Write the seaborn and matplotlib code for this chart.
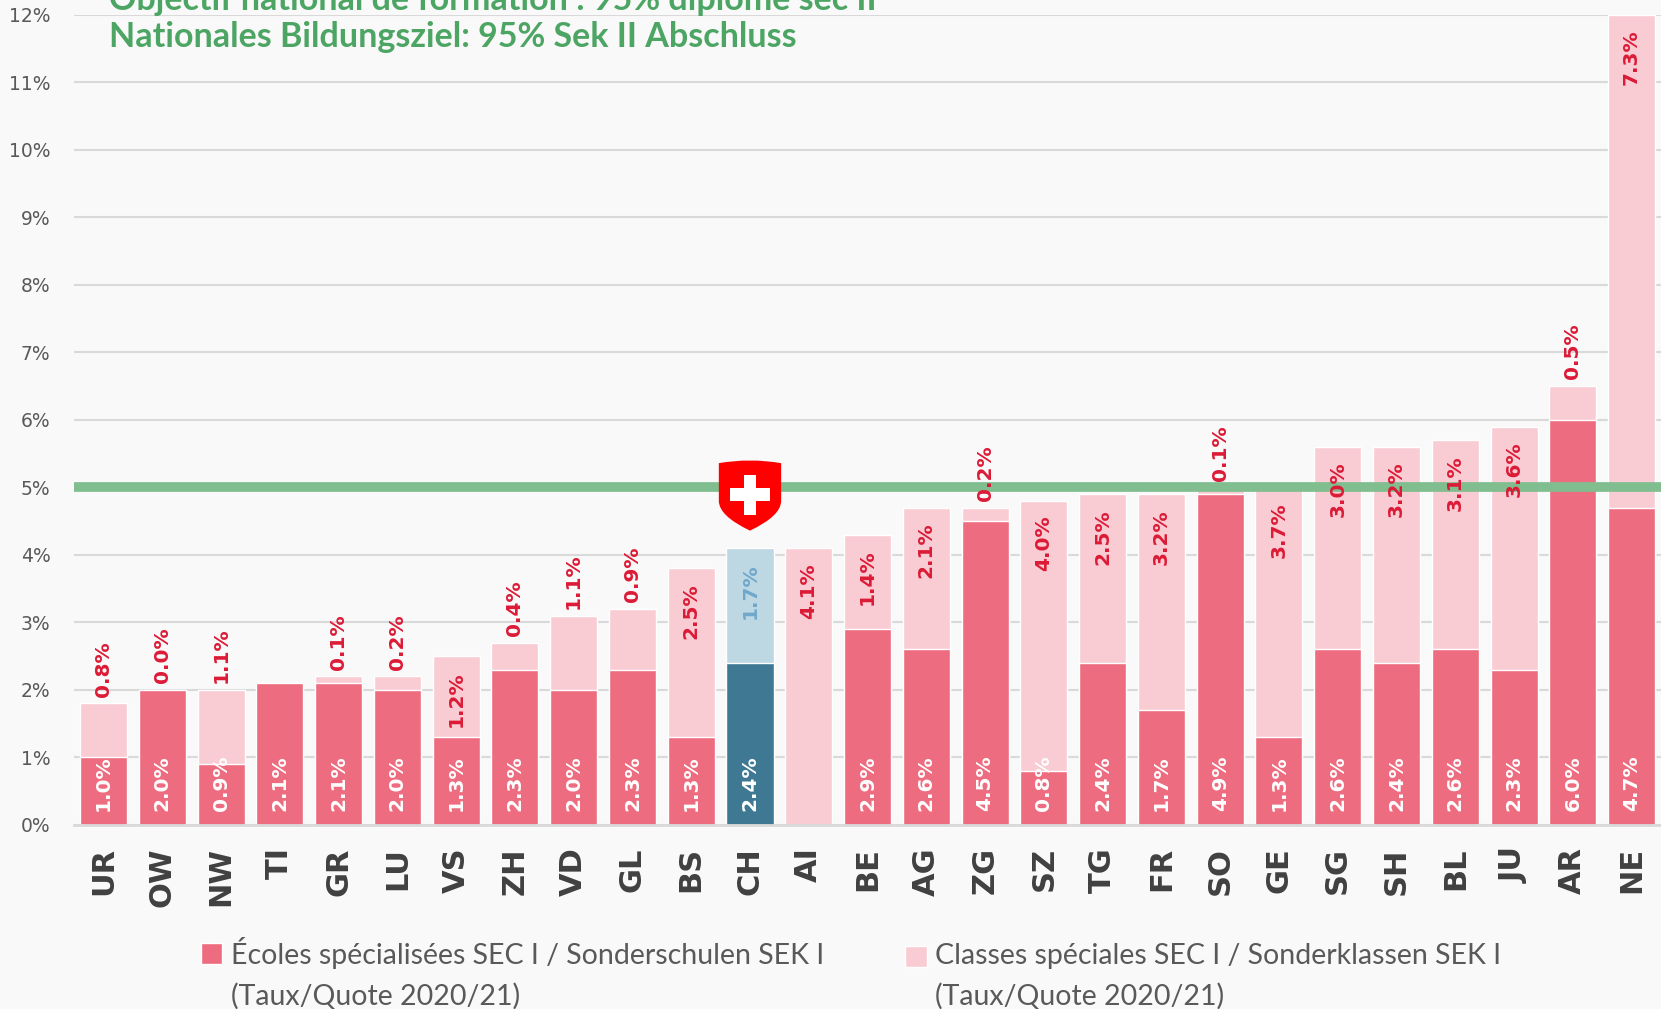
import numpy as np
import pandas as pd
import matplotlib
matplotlib.use('Agg')
import matplotlib.pyplot as plt
from matplotlib.patches import Patch, PathPatch, Rectangle
from matplotlib.path import Path
import seaborn as sns

# --- données (taux en %) ---
cantons = ['UR', 'OW', 'NW', 'TI', 'GR', 'LU', 'VS', 'ZH', 'VD', 'GL', 'BS', 'CH', 'AI',
           'BE', 'AG', 'ZG', 'SZ', 'TG', 'FR', 'SO', 'GE', 'SG', 'SH', 'BL', 'JU', 'AR', 'NE']
ecoles = [1.0, 2.0, 0.9, 2.1, 2.1, 2.0, 1.3, 2.3, 2.0, 2.3, 1.3, 2.4, np.nan,
          2.9, 2.6, 4.5, 0.8, 2.4, 1.7, 4.9, 1.3, 2.6, 2.4, 2.6, 2.3, 6.0, 4.7]
classes = [0.8, 0.0, 1.1, np.nan, 0.1, 0.2, 1.2, 0.4, 1.1, 0.9, 2.5, 1.7, 4.1,
           1.4, 2.1, 0.2, 4.0, 2.5, 3.2, 0.1, 3.7, 3.0, 3.2, 3.1, 3.6, 0.5, 7.3]
objectif = 5.0

titre1 = 'Objectif national de formation : 95% diplôme sec II'
titre2 = 'Nationales Bildungsziel: 95% Sek II Abschluss'
leg1 = 'Écoles spécialisées SEC I / Sonderschulen SEK I\n(Taux/Quote 2020/21)'
leg2 = 'Classes spéciales SEC I / Sonderklassen SEK I\n(Taux/Quote 2020/21)'

df = pd.DataFrame({'canton': cantons, 'ecoles': ecoles, 'classes': classes})
df['ecoles_bar'] = df['ecoles'].fillna(0)
df['total'] = df['ecoles'].fillna(0) + df['classes'].fillna(0)

# couleurs
c_dark, c_light = '#ee6c7f', '#f9cbd3'
c_ch_dark, c_ch_light = '#3f7893', '#bdd7e3'
c_lab = '#dc1a36'
c_lab_ch = '#6fa8cb'
bg = '#f9f9f9'

pal_light = [c_ch_light if c == 'CH' else c_light for c in cantons]
pal_dark = [c_ch_dark if c == 'CH' else c_dark for c in cantons]

sns.set_style('white')
plt.rcParams['font.family'] = ['DejaVu Sans']

fig = plt.figure(figsize=(16.61, 10.09), dpi=100, facecolor=bg)
ax = fig.add_axes([0.0446, 0.1824, 0.9554, 0.8028])
ax.set_facecolor(bg)

sns.barplot(data=df, x='canton', y='total', hue='canton', order=cantons, hue_order=cantons,
            palette=pal_light, legend=False, width=0.8, saturation=1, ax=ax, zorder=2)
sns.barplot(data=df, x='canton', y='ecoles_bar', hue='canton', order=cantons, hue_order=cantons,
            palette=pal_dark, legend=False, width=0.8, saturation=1, ax=ax, zorder=2)

# étiquettes
for i, row in df.iterrows():
    if not np.isnan(row['ecoles']):
        ax.text(i, 0.2, f"{row['ecoles']:.1f}%", rotation=90, ha='center', va='bottom',
                color='white', fontsize=14.5, fontweight='bold', zorder=5)
    if not np.isnan(row['classes']):
        col = c_lab_ch if row['canton'] == 'CH' else c_lab
        if row['classes'] >= 1.2:
            ax.text(i, row['total'] - 0.22, f"{row['classes']:.1f}%", rotation=90, ha='center',
                    va='top', color=col, fontsize=14.5, fontweight='bold', zorder=5)
        else:
            ax.text(i, row['total'] + 0.1, f"{row['classes']:.1f}%", rotation=90, ha='center',
                    va='bottom', color=col, fontsize=14.5, fontweight='bold', zorder=5)

# objectif national
ax.axhline(objectif, color='#80bd8f', lw=7, zorder=3)

# écusson suisse au-dessus de CH
xc = cantons.index('CH')
hw = 0.53
top, side, tip = objectif + 0.36, objectif - 0.2, objectif - 0.64
verts = [(xc - hw, top), (xc, top + 0.08), (xc + hw, top), (xc + hw, side),
         (xc + hw, tip + 0.22), (xc, tip), (xc - hw, tip + 0.22), (xc - hw, side), (xc - hw, top)]
codes = [Path.MOVETO, Path.CURVE3, Path.CURVE3, Path.LINETO,
         Path.CURVE3, Path.CURVE3, Path.CURVE3, Path.CURVE3, Path.CLOSEPOLY]
ax.add_patch(PathPatch(Path(verts, codes), facecolor='#ff0000', edgecolor='none', zorder=4))
cy = objectif - 0.11
ax.add_patch(Rectangle((xc - 0.34, cy - 0.095), 0.68, 0.19, facecolor='white', edgecolor='none', zorder=5))
ax.add_patch(Rectangle((xc - 0.11, cy - 0.295), 0.22, 0.59, facecolor='white', edgecolor='none', zorder=5))

# axes
ax.set_xlim(-0.5, len(cantons) - 0.5)
ax.set_ylim(0, 12)
ax.set_yticks(range(0, 13))
ax.set_yticklabels([f'{v}%' for v in range(0, 13)])
ax.set_xlabel('')
ax.set_ylabel('')
ax.yaxis.grid(True, color='#d9d9d9', lw=1.5)
ax.set_axisbelow(True)
for s in ['left', 'right', 'top']:
    ax.spines[s].set_visible(False)
ax.spines['bottom'].set_color('#d9d9d9')
ax.spines['bottom'].set_linewidth(2)
ax.tick_params(axis='y', length=0, pad=17, labelsize=13.5, labelcolor='#595959')
ax.tick_params(axis='x', length=0, pad=16, labelsize=22, labelcolor='#404040')
plt.setp(ax.get_xticklabels(), rotation=90, fontweight='bold')

# titre
fig.text(0.0656, 0.990, titre1, fontsize=24.5, fontweight='bold', color='#4da564',
         family='Lato', va='baseline', ha='left')
fig.text(0.0656, 0.953, titre2, fontsize=24.5, fontweight='bold', color='#4da564',
         family='Lato', va='baseline', ha='left')

# légende
def legende(color, label, x, y):
    lg = fig.legend(handles=[Patch(facecolor=color)], labels=[label], loc='upper left',
                    bbox_to_anchor=(x, y), frameon=False, handlelength=0.75, handleheight=0.75,
                    handletextpad=0.3, prop={'family': 'Lato', 'size': 20.5}, labelcolor='#595959',
                    borderaxespad=0, borderpad=0)
    for t in lg.get_texts():
        t.set_linespacing(1.6)
    # carré aligné sur la première ligne
    h = lg.legend_handles[0]
    h.set_y(h.get_y() + 15)
    return lg

legende(c_dark, leg1, 0.121, 0.071)
legende(c_light, leg2, 0.545, 0.065)

fig.savefig('out.png', dpi=100, facecolor=bg)
